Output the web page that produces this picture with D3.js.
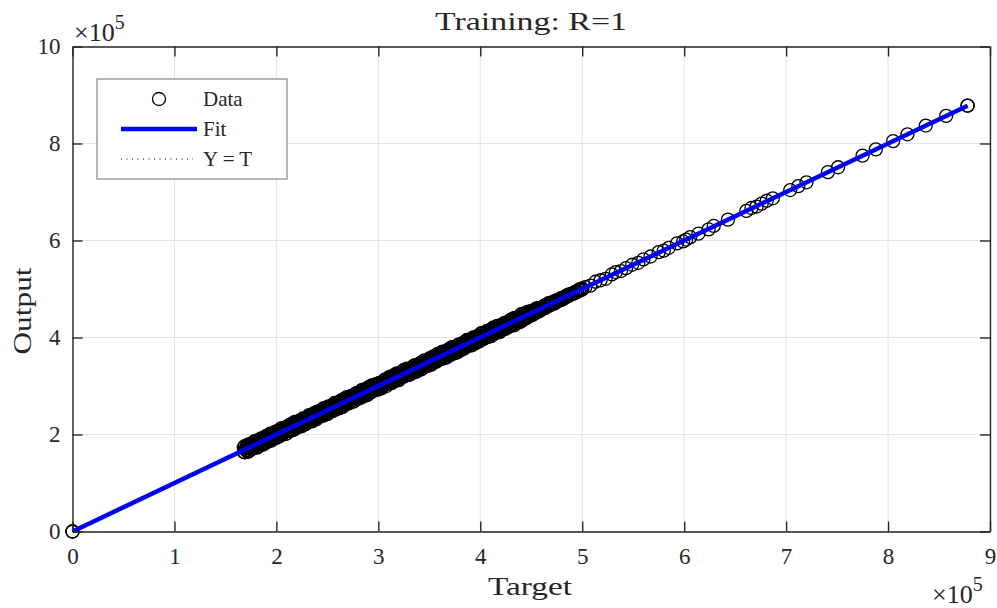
<!DOCTYPE html>
<html><head><meta charset="utf-8">
<script src="https://cdn.jsdelivr.net/npm/d3@7"></script>
<style>body{margin:0;background:#fff}svg{display:block}text{font-family:"Liberation Serif","Times New Roman",serif;fill:#262626}</style>
</head><body><svg id="c" width="997" height="608"></svg>
<script>
// axis values in units of 1e5
const xTicks = [0,1,2,3,4,5,6,7,8,9];
const yTicks = [0,2,4,6,8,10];
const originTargets = [0,0,0];
// dense block of samples, in units of 1e3
const denseTargetsK = [168,169,170,171,172,173,174,175,176,177,178,179,180,181,182,183,184,185,186,187,188,189,190,191,192,193,194,195,196,197,198,199,
200,201,202,203,204,205,206,207,208,209,210,211,212,213,214,215,216,217,218,219,220,221,222,223,224,225,226,227,228,229,230,231,232,233,234,235,236,237,238,239,
240,241,242,243,244,245,246,247,248,249,250,251,252,253,254,255,256,257,258,259,260,261,262,263,264,265,266,267,268,269,270,271,272,273,274,275,276,277,278,279,
280,281,282,283,284,285,286,287,288,289,290,291,292,293,294,295,296,297,298,299,300,301,302,303,304,305,306,307,308,309,310,311,312,313,314,315,316,317,318,319,
320,321,322,323,324,325,326,327,328,329,330,331,332,333,334,335,336,337,338,339,340,341,342,343,344,345,346,347,348,349,350,351,352,353,354,355,356,357,358,359,
360,361,362,363,364,365,366,367,368,369,370,371,372,373,374,375,376,377,378,379,380,381,382,383,384,385,386,387,388,389,390,391,392,393,394,395,396,397,398,399,
400,401,402,403,404,405,406,407,408,409,410,411,412,413,414,415,416,417,418,419,420,421,422,423,424,425,426,427,428,429,430,431,432,433,434,435,436,437,438,439,
440,441,442,443,444,445,446,447,448,449,450,451,452,453,454,455,456,457,458,459,461,463,465,467,469,471,473,475,477,479,481,483,485,487,489,491,493,495,497,499,500];
// output minus target, first sample at each dense target (units of 1e3)
const denseDeviationA = [5,-6,2,-3,7,-1,-7,4,0,-5,6,-2,3,-8,5,1,-4,7,-6,2,
-3,6,-7,4,0,-5,8,-2,3,-6,5,-1,-7,6,2,-4,7,-5,1,-3,
6,-8,3,4,-2,-6,7,0,-4,5,-7,2,6,-3,-5,4,1,-6,7,-2,
3,-7,5,-1,6,-4,2,-8,4,7,-5,0,-3,6,-6,3,5,-2,-7,1,
7,-4,2,-6,5,-1,4,-7,6,-3,0,5,-5,3,-8,6,1,-4,7,-2,
-6,4,2,-5,6,-3,5,-7,1,3,-2,7,-6,4,-4,0,6,-5,2,-7,
5,-1,3,-6,7,-3,4,-5,1,6,-4,2,-7,5,-2,3,-5,4,-3,5,
-8,1,6,-2,4,-6,3,7,-4,0,5,-7,2,-3,6,-1,-5,8,-2,3,
-4,6,-7,1,5,-3,2,-6,7,-1,4,-5,0,6,-8,3,5,-2,-6,4,
1,-7,6,-4,3,-1,7,-5,2,-3,5,-6,0,4,-2,8,-7,3,-4,6,
-1,-5,7,2,-6,4,-3,5,-8,1,6,-2,3,-7,4,-4,2,6,-5,0,
7,-3,-6,5,1,-4,3,-7,6,-1,2,-5,4,-2,7,-6,0,5,-3,1,
-6,4,3,-8,6,-2,5,-4,1,7,-5,-1,4,-6,2,6,-3,-7,5,0,
3,-4,6,-2,-5,7,1,-6,4,-3,5,-1,-7,2,6,-4,3,-5,1,-2,
4,-3,5,-2,3,-4,2,-3,4,-2,3,-1,2,-3,1,-2,3,-1,2,-1,
1,-2,1,-1,2,-1,1,0,-1,1,0,-1,1];
// output minus target, second sample at each dense target (units of 1e3)
const denseDeviationB = [-4,7,-2,5,-8,3,6,-5,1,-6,4,8,-3,-1,6,-7,2,5,-4,-8,
3,-5,7,-1,-6,4,2,-8,6,-3,1,7,-5,-2,5,-7,3,8,-6,0,
-2,5,-8,6,1,-4,7,-3,-7,2,8,-5,4,-1,-6,6,3,-8,0,5,
-7,2,4,-5,8,-2,-6,6,1,-4,3,-8,7,-1,-3,5,-6,2,8,-5,
4,-2,-8,7,-5,3,1,-6,5,8,-7,-3,6,2,-4,-1,7,-8,4,3,
-5,8,-1,-7,3,6,-4,2,-8,5,7,-6,1,-3,4,-7,8,-2,-5,6,
0,-8,7,3,-4,-6,8,1,-5,4,-2,6,-7,3,5,-8,2,-1,7,-4,
6,-3,-5,8,2,-7,1,-4,5,-6,8,3,-8,4,-1,-5,7,2,-6,3,
8,-6,1,-2,-7,5,-4,7,3,-8,2,4,-5,6,-3,-7,1,8,-4,-1,
5,3,-6,7,-8,2,-3,6,-1,-7,8,-4,4,-5,1,7,-6,-2,5,-8,
6,2,-4,-7,8,-3,5,-6,1,4,-8,7,-2,-5,3,6,-7,1,-4,8,
-3,-6,5,2,-8,7,-1,4,-5,3,6,-7,-2,8,-4,1,-6,5,7,-3,
2,-7,6,-4,-1,8,-5,3,-6,7,1,-8,4,-3,5,-2,6,-5,-1,4,
-6,3,7,-5,2,-8,6,-2,-4,5,-7,1,8,-3,-6,4,2,-5,7,-1,
-3,4,-5,2,-4,3,-2,5,-3,1,-4,2,-2,3,-1,4,-2,1,-3,2,
-1,2,-2,1,-1,2,0,-1,1,-1,2,0,-1];
const sparseTargets = [5.03,5.08,5.13,5.18,5.23,5.29,5.33,5.38,5.43,5.49,5.55,5.60,5.67,5.75,5.80,5.85,5.93,5.99,6.02,6.06,6.14,6.24,6.29,6.43,6.61,6.66,6.71,6.76,6.81,6.87,7.04,7.12,7.20,7.41,7.51,7.75,7.88,8.05,8.19,8.37,8.57,8.78,8.78];
const sparseDeviation = [0.01,-0.01,0.02,0.00,-0.02,0.01,0.02,-0.01,0.00,0.01,-0.01,0.01,0.00,0.01,-0.01,0.00,0.01,-0.01,0.00,0.01,0.00,-0.01,0.01,0.00,0.00,0.01,-0.01,0.00,0.01,0.00,0,0,0,0,0,0,0,0,0,0,0,0,0];
const fitSlope = 1, fitIntercept = 0;
const fitRange = [0, 8.78];
const legendItems = ["Data","Fit","Y = T"];
const titleText = "Training: R=1";

const points = [];
originTargets.forEach(t => points.push({t, o: t}));
denseTargetsK.forEach((t,i) => points.push({t: t/100, o: (t + (denseDeviationA[i] ?? 0))/100}));
denseTargetsK.forEach((t,i) => points.push({t: t/100, o: (t + (denseDeviationB[i] ?? 0))/100}));
sparseTargets.forEach((t,i) => points.push({t, o: t + (sparseDeviation[i] ?? 0)}));

const L = 72.5, R = 990, T = 46.5, B = 531.5;
const svg = d3.select("#c");
const x = d3.scaleLinear().domain([0,9]).range([L,R]);
const y = d3.scaleLinear().domain([0,10]).range([B,T]);
const ax = "#262626";

// grid
const grid = svg.append("g");
grid.selectAll("line.gx").data(xTicks).join("line").attr("x1",d=>x(d)).attr("x2",d=>x(d)).attr("y1",T).attr("y2",B).attr("stroke","#e3e3e3").attr("stroke-width",1);
grid.selectAll("line.gy").data(yTicks).join("line").attr("y1",d=>y(d)).attr("y2",d=>y(d)).attr("x1",L).attr("x2",R).attr("stroke","#e3e3e3").attr("stroke-width",1);

// data
svg.append("g").selectAll("circle").data(points).join("circle")
  .attr("cx",d=>x(d.t)).attr("cy",d=>y(d.o)).attr("r",6.5)
  .attr("fill","none").attr("stroke","#000").attr("stroke-width",1.3);

// fit line and identity line
const line = d3.line().x(d=>x(d[0])).y(d=>y(d[1]));
svg.append("path").attr("d", line(fitRange.map(t=>[t, fitSlope*t+fitIntercept])))
  .attr("stroke","#0000ff").attr("stroke-width",4.5).attr("fill","none");
svg.append("path").attr("d", line(fitRange.map(t=>[t,t])))
  .attr("stroke","#000").attr("stroke-width",1).attr("stroke-dasharray","1,4.5").attr("fill","none");

// axes
function styleAxis(g){ g.select(".domain").attr("stroke",ax).attr("stroke-width",1.4).attr("fill","none");
  g.selectAll(".tick line").attr("stroke",ax).attr("stroke-width",1.4);
  g.selectAll("text").attr("font-family","Liberation Serif").attr("font-size",23).attr("fill",ax); }
svg.append("g").attr("transform",`translate(0,${B})`).call(d3.axisBottom(x).tickValues(xTicks).tickFormat(d3.format("d")).tickSizeInner(-10).tickSizeOuter(0).tickPadding(16)).call(styleAxis);
svg.append("g").attr("transform",`translate(0,${T})`).call(d3.axisTop(x).tickValues(xTicks).tickFormat("").tickSizeInner(-10).tickSizeOuter(0)).call(styleAxis);
svg.append("g").attr("transform",`translate(${L},0)`).call(d3.axisLeft(y).tickValues(yTicks).tickFormat(d3.format("d")).tickSizeInner(-10).tickSizeOuter(0).tickPadding(12)).call(styleAxis);
svg.append("g").attr("transform",`translate(${R},0)`).call(d3.axisRight(y).tickValues(yTicks).tickFormat("").tickSizeInner(-10).tickSizeOuter(0)).call(styleAxis);

// exponents
function expo(xp, yp){
  const t = svg.append("text").attr("x",xp).attr("y",yp).attr("font-size",26).attr("fill",ax);
  t.append("tspan").text("\u00d710");
  t.append("tspan").attr("dy",-12).attr("font-size",20).text("5");
}
expo(74, 41);
expo(932, 603);

// labels
svg.append("text").attr("x",531).attr("y",30).attr("text-anchor","middle").attr("font-size",26)
  .attr("textLength",192).attr("lengthAdjust","spacingAndGlyphs").attr("fill","#000").text(titleText);
svg.append("text").attr("x",530).attr("y",595).attr("text-anchor","middle").attr("font-size",26)
  .attr("textLength",84).attr("lengthAdjust","spacingAndGlyphs").text("Target");
svg.append("text").attr("transform","translate(31,311) rotate(-90)").attr("text-anchor","middle").attr("font-size",26)
  .attr("textLength",87).attr("lengthAdjust","spacingAndGlyphs").text("Output");

// legend
const lg = svg.append("g");
lg.append("rect").attr("x",97).attr("y",79).attr("width",190).attr("height",100).attr("fill","#fff").attr("stroke","#6e6e6e").attr("stroke-width",1);
const rows = [99,129,159];
lg.append("circle").attr("cx",159).attr("cy",rows[0]).attr("r",6.5).attr("fill","none").attr("stroke","#000").attr("stroke-width",1.3);
lg.append("line").attr("x1",121).attr("x2",197).attr("y1",rows[1]).attr("y2",rows[1]).attr("stroke","#0000ff").attr("stroke-width",4.5);
lg.append("line").attr("x1",121).attr("x2",193).attr("y1",rows[2]).attr("y2",rows[2]).attr("stroke","#000").attr("stroke-width",1).attr("stroke-dasharray","1,4.5");
lg.selectAll("text.li").data(legendItems).join("text").attr("x",203).attr("y",(d,i)=>rows[i]+7).attr("font-size",21).attr("fill","#000").text(d=>d);
</script></body></html>
